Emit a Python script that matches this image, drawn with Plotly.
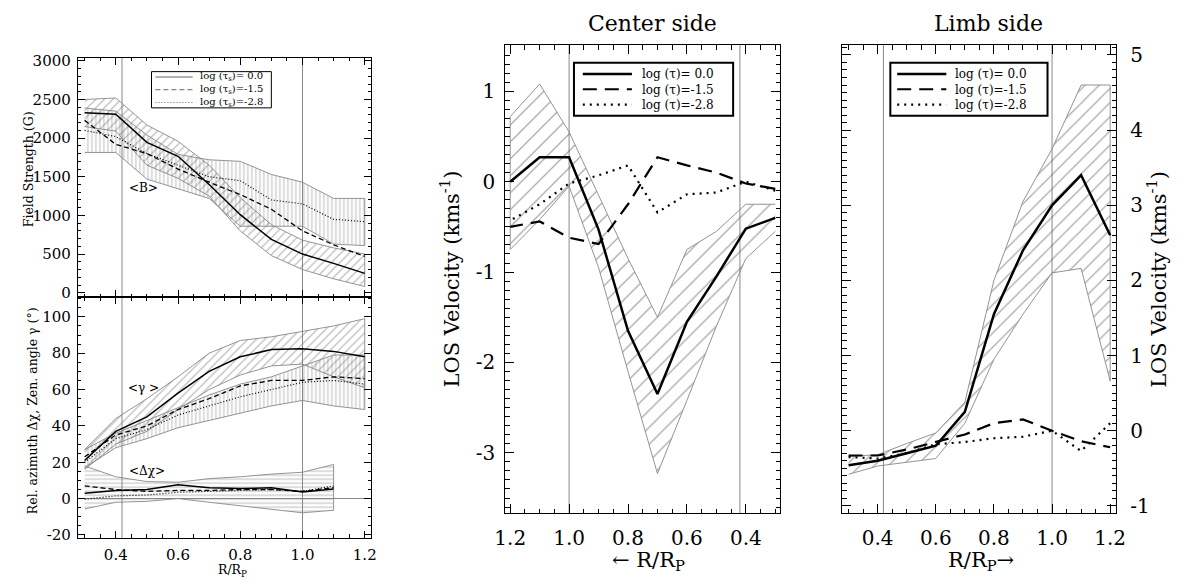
import plotly.graph_objects as go

W, H = 1199, 586
FONT = "DejaVu Serif"

# ---------------- data ----------------
r = [0.3, 0.4, 0.5, 0.6, 0.7, 0.8, 0.9, 1.0, 1.1, 1.2]
r_chi = [0.3, 0.4, 0.5, 0.6, 0.7, 0.8, 0.9, 1.0, 1.1]
boundaries = [0.42, 1.0]

# Field strength <B> (G)
B_00 = [2330, 2310, 1945, 1765, 1400, 1010, 690, 500, 380, 250]
B_00_hi = [2500, 2520, 2170, 1960, 1650, 1230, 880, 680, 580, 500]
B_00_lo = [2150, 2090, 1650, 1480, 1250, 800, 480, 300, 180, 80]
B_15 = [2230, 1920, 1800, 1600, 1430, 1270, 1080, 800, 620, 470]
B_28 = [2100, 2020, 1800, 1650, 1500, 1450, 1200, 1150, 950, 920]
B_28_hi = [2390, 2350, 2040, 1790, 1720, 1700, 1530, 1430, 1220, 1220]
B_28_lo = [1815, 1815, 1470, 1345, 1220, 860, 860, 860, 630, 610]

# Zenith angle <gamma> (deg)
G_00 = [21, 37, 45, 58, 70, 78, 82, 82.5, 81, 78]
G_00_hi = [27, 44, 55, 67, 80, 87, 89, 92, 95, 99]
G_00_lo = [16, 30, 37, 49, 60, 68, 73, 74, 67, 61]
G_15 = [23, 35, 40, 49, 55, 62, 65, 65, 67, 66]
G_28 = [20, 33, 38, 46, 51, 56, 60, 64, 65, 63]
G_28_hi = [27, 36, 43, 50, 57, 63, 67, 73, 79, 79]
G_28_lo = [17, 28, 33, 39, 43, 47, 51, 54, 51, 49]

# Relative azimuth <dchi> (deg)
C_00 = [3, 4.5, 5, 7.6, 6, 5.5, 6, 3.7, 5.3]
C_15 = [7, 5, 4, 4.5, 4.5, 5, 5, 4, 6]
C_28 = [-0.3, 1.5, 2, 3.5, 4, 4.5, 5, 4, 7]
C_hi = [18, 12, 9.4, 9, 11, 12, 13.5, 14.5, 18.8]
C_lo = [-5.7, -2, -1.5, 0, -2, -4, -6, -7.8, -6.4]

# LOS velocity, center side (km/s)
VC_00 = [-0.4, -0.52, -1.05, -1.55, -2.35, -1.65, -0.53, 0.27, 0.27, 0.0]
VC_00_hi = [-0.25, -0.25, -0.55, -0.75, -1.5, -0.85, -0.15, 0.55, 1.08, 0.72]
VC_00_lo = [-0.55, -0.85, -1.6, -2.42, -3.23, -2.1, -0.95, -0.05, -0.42, -0.75]
VC_15 = [-0.08, -0.02, 0.1, 0.18, 0.27, -0.25, -0.69, -0.62, -0.44, -0.5]
VC_28 = [-0.1, 0.0, -0.12, -0.14, -0.34, 0.18, 0.07, -0.02, -0.25, -0.43]

# LOS velocity, limb side (km/s)
VL_00 = [-0.46, -0.40, -0.30, -0.20, 0.25, 1.55, 2.4, 3.0, 3.4, 2.6]
VL_00_hi = [-0.34, -0.32, -0.17, -0.03, 0.38, 2.0, 3.05, 3.75, 4.6, 4.6]
VL_00_lo = [-0.58, -0.47, -0.42, -0.37, 0.1, 0.95, 1.55, 2.1, 2.16, 0.66]
VL_15 = [-0.33, -0.33, -0.25, -0.15, -0.05, 0.1, 0.15, 0.0, -0.14, -0.22]
VL_28 = [-0.35, -0.37, -0.3, -0.18, -0.15, -0.1, -0.08, 0.0, -0.27, 0.1]

# tick labels
x_tickvals = [0.4, 0.6, 0.8, 1.0, 1.2]
x_ticktext = ["0.4", "0.6", "0.8", "1.0", "1.2"]
B_ticks = [0, 500, 1000, 1500, 2000, 2500, 3000]
G_ticks = [-20, 0, 20, 40, 60, 80, 100]
VC_ticks = [-3, -2, -1, 0, 1]
VL_ticks = [-1, 0, 1, 2, 3, 4, 5]

labels_left = ["log (τ<sub>s</sub>)= 0.0", "log (τ<sub>s</sub>)=-1.5", "log (τ<sub>s</sub>)=-2.8"]
labels_big = ["log (τ)= 0.0", "log (τ)=-1.5", "log (τ)=-2.8"]


def px(x):
    return x / W


def py(y):
    return 1 - y / H


fig = go.Figure()

sty_small = [dict(color="black", width=1.5, dash="solid"),
             dict(color="black", width=1.3, dash="5px,3px"),
             dict(color="black", width=1.2, dash="1px,2px")]
sty_big = [dict(color="black", width=2.5, dash="solid"),
           dict(color="black", width=2.2, dash="14px,8px"),
           dict(color="black", width=2.2, dash="2px,5px")]


def add_band(xs, hi, lo, shape, size, sol, fg, xa, ya):
    bx = list(xs) + list(xs)[::-1]
    by = list(hi) + list(lo)[::-1]
    fig.add_trace(go.Scatter(
        x=bx, y=by, xaxis=xa, yaxis=ya, mode="lines", fill="toself",
        fillcolor="rgba(0,0,0,0)",
        fillpattern=dict(shape=shape, size=size, solidity=sol, fgcolor=fg,
                         bgcolor="rgba(0,0,0,0)"),
        line=dict(color="#888", width=0.9), showlegend=False, hoverinfo="skip"))


def add_line(xs, ys, sty, xa, ya):
    fig.add_trace(go.Scatter(x=xs, y=ys, xaxis=xa, yaxis=ya, mode="lines",
                             line=sty, showlegend=False, hoverinfo="skip"))


# left top: field strength
add_band(r, B_00_hi, B_00_lo, "/", 6, 0.2, "#777", "x", "y")
add_band(r, B_28_hi, B_28_lo, "|", 4, 0.25, "#777", "x", "y")
add_line(r, B_00, sty_small[0], "x", "y")
add_line(r, B_15, sty_small[1], "x", "y")
add_line(r, B_28, sty_small[2], "x", "y")

# left bottom: angles
add_band(r, G_00_hi, G_00_lo, "/", 6, 0.2, "#777", "x2", "y2")
add_band(r, G_28_hi, G_28_lo, "|", 4, 0.25, "#777", "x2", "y2")
add_band(r_chi, C_hi, C_lo, "-", 4, 0.25, "#777", "x2", "y2")
add_line(r, G_00, sty_small[0], "x2", "y2")
add_line(r, G_15, sty_small[1], "x2", "y2")
add_line(r, G_28, sty_small[2], "x2", "y2")
add_line(r_chi, C_00, sty_small[0], "x2", "y2")
add_line(r_chi, C_15, sty_small[1], "x2", "y2")
add_line(r_chi, C_28, sty_small[2], "x2", "y2")

# middle: center side
add_band(r, VC_00_hi, VC_00_lo, "/", 12, 0.11, "#555", "x3", "y3")
add_line(r, VC_00, sty_big[0], "x3", "y3")
add_line(r, VC_15, sty_big[1], "x3", "y3")
add_line(r, VC_28, sty_big[2], "x3", "y3")

# right: limb side
add_band(r, VL_00_hi, VL_00_lo, "/", 10, 0.13, "#555", "x4", "y4")
add_line(r, VL_00, sty_big[0], "x4", "y4")
add_line(r, VL_15, sty_big[1], "x4", "y4")
add_line(r, VL_28, sty_big[2], "x4", "y4")


def axis(domain, rng, anchor, fs, major_len, minor_len, minor_dtick, minor_tick0,
         tickvals, ticktext, show, side=None, standoff=3):
    d = dict(domain=domain, range=rng, autorange=False, anchor=anchor,
             showline=True, linecolor="black", linewidth=1, mirror="ticks",
             ticks="inside", ticklen=major_len, tickwidth=1, tickcolor="black",
             showgrid=False, zeroline=False, tickmode="array",
             tickvals=tickvals, ticktext=ticktext, showticklabels=show,
             ticklabelstandoff=standoff,
             tickfont=dict(family=FONT, size=fs, color="black"),
             minor=dict(ticks="inside", ticklen=minor_len, tickcolor="black",
                        tickmode="linear", dtick=minor_dtick, tick0=minor_tick0,
                        showgrid=False))
    if side:
        d["side"] = side
    return d


LX = [px(68), px(366.7)]
MX = [px(503), px(783)]
RX = [px(846), px(1125)]
LT = [py(297.3), py(53)]
LB = [py(543), py(297.3)]
BY = [py(518), py(40)]
XR = [0.278, 1.221]

fig.update_layout(
    width=W, height=H, margin=dict(l=0, r=0, t=0, b=0),
    paper_bgcolor="white", plot_bgcolor="white", showlegend=False,
    xaxis=axis(LX, XR, "y", 15, 7, 3.5, 0.05, 0.3, x_tickvals, x_ticktext, False),
    yaxis=axis(LT, [-58, 3038], "x", 15, 7, 3.5, 100, 0, B_ticks,
               [str(v) for v in B_ticks], True),
    xaxis2=axis(LX, XR, "y2", 15, 7, 3.5, 0.05, 0.3, x_tickvals, x_ticktext, True,
                standoff=3),
    yaxis2=axis(LB, [-21.6, 110.8], "x2", 15, 7, 3.5, 5, 0, G_ticks,
                [str(v) for v in G_ticks], True),
    xaxis3=axis(MX, [1.217, 0.283], "y3", 20, 9, 4.5, 0.05, 0.3, x_tickvals, x_ticktext,
                True, standoff=7),
    yaxis3=axis(BY, [-3.67, 1.51], "x3", 20, 9, 4.5, 0.1, 0, VC_ticks,
                [str(v) for v in VC_ticks], True, standoff=5),
    xaxis4=axis(RX, XR, "y4", 20, 9, 4.5, 0.05, 0.3, x_tickvals, x_ticktext, True,
                standoff=7),
    yaxis4=axis(BY, [-1.10, 5.13], "x4", 20, 9, 4.5, 0.1, 0, VL_ticks,
                [str(v) for v in VL_ticks], True, side="right", standoff=9),
)
fig.update_layout(yaxis2=dict(zeroline=True, zerolinecolor="#888", zerolinewidth=1))

shapes = []
annotations = []

# boundary lines
for xa, ya in [("x", "y"), ("x2", "y2"), ("x3", "y3"), ("x4", "y4")]:
    for b in boundaries:
        shapes.append(dict(type="line", xref=xa, yref=ya + " domain", x0=b, x1=b,
                           y0=0, y1=1, line=dict(color="#888", width=1), layer="below"))


def draw_legend(box, yc, fs, sx0, sx1, tx, labels, stys, bw):
    x0, y0, x1, y1 = box
    lh = 1.3 * fs
    shapes.append(dict(type="rect", xref="paper", yref="paper", x0=px(x0), x1=px(x1),
                       y0=py(y1), y1=py(y0), line=dict(color="black", width=bw),
                       fillcolor="white", layer="above"))
    for i, st in enumerate(stys):
        yy = yc + (i - 1) * lh
        shapes.append(dict(type="line", xref="paper", yref="paper", x0=px(sx0), x1=px(sx1),
                           y0=py(yy), y1=py(yy), line=st, layer="above"))
    annotations.append(dict(xref="paper", yref="paper", x=px(tx), y=py(yc),
                            text="<br>".join(labels), align="left",
                            showarrow=False, xanchor="left", yanchor="middle",
                            font=dict(family=FONT, size=fs, color="black")))


leg_small = [dict(color="#666", width=1, dash="solid"),
             dict(color="#666", width=1, dash="5px,3px"),
             dict(color="#666", width=1, dash="1px,2px")]
draw_legend((143, 67, 265, 104), 85.5, 10, 147, 185, 190, labels_left, leg_small, 1)
draw_legend((573, 58, 735, 112), 85, 12, 582, 632, 640, labels_big, sty_big, 2)
draw_legend((895, 58, 1055, 112), 85, 12, 902, 952, 959, labels_big, sty_big, 2)


def text(x, y, t, fs, angle=0, xref="paper", yref="paper"):
    annotations.append(dict(xref=xref, yref=yref, x=x, y=y, text=t, showarrow=False,
                            textangle=angle, xanchor="center", yanchor="middle",
                            font=dict(family=FONT, size=fs, color="black")))


text(px(653), py(18), "Center side", 22)
text(px(995), py(18), "Limb side", 22)
text(px(447), py(279), "LOS Velocity (kms<sup>-1</sup>)", 21, -90)
text(px(1167), py(279), "LOS Velocity (kms<sup>-1</sup>)", 21, -90)
text(px(649), py(567), "← R/R<sub>P</sub>", 21)
text(px(987), py(567), "R/R<sub>P</sub>→", 21)
text(px(225), py(576), "R/R<sub>P</sub>", 12.5)
text(px(18), py(167), "Field Strength (G)", 12.5, -90)
text(px(22), py(413), "Rel. azimuth Δχ, Zen. angle γ (°)", 12.5, -90)
text(0.49, 1350, "&lt;B&gt;", 12, xref="x", yref="y")
text(0.49, 61, "&lt;γ &gt;", 12, xref="x2", yref="y2")
text(0.50, 15, "&lt;Δχ&gt;", 12, xref="x2", yref="y2")

fig.update_layout(shapes=shapes, annotations=annotations)
fig.write_html("out.html")
